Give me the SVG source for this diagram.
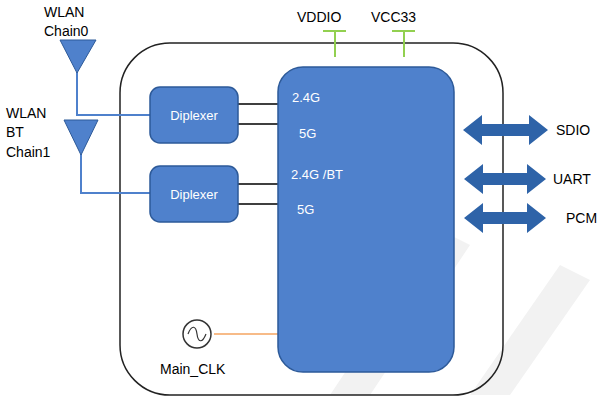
<svg xmlns="http://www.w3.org/2000/svg" width="613" height="406" viewBox="0 0 613 406">
<style>
text{font-family:"Liberation Sans",Arial,sans-serif;font-size:14px}
.w{fill:#fff;font-size:13px}
.blk{fill:#4f81cc;stroke:#2d5a99;stroke-width:1.5}
.ant{fill:#4f81cc;stroke:#2d5a99;stroke-width:1}
.bl{stroke:#4f81cc;stroke-width:2;fill:none}
.k{stroke:#000;stroke-width:1.5}
.g{stroke:#92d050;stroke-width:2;fill:none}
.arr{fill:#2e63a8}
</style>
<rect width="613" height="406" fill="#fff"/>
<path d="M330 395 L440 230 L470 245 L370 395Z" fill="#f2f2f2"/>
<path d="M470 395 L560 265 L590 280 L510 395Z" fill="#f2f2f2"/>
<rect id="board" x="120" y="43" width="383" height="352" rx="50" fill="none" stroke="#222" stroke-width="1.5"/>
<g id="connectors">
<path class="bl" d="M77 72 V115 H150"/>
<path class="bl" d="M81 154 V193 H150"/>
<path class="k" d="M238 104 H278 M238 124 H278 M238 184 H278 M238 204 H278"/>
<path class="g" d="M323 31 H346 M335 31 V57 M392 31 H415 M404 31 V57"/>
<path d="M214 334 H278" stroke="#f4a460" stroke-width="1.5"/>
<path class="arr" d="M463 130 L482 115 V124 H529 V115 L548 130 L529 145 V136 H482 V145Z"/>
<path class="arr" d="M464 179 L483 164 V173 H527 V164 L546 179 L527 194 V185 H483 V194Z"/>
<path class="arr" d="M464 218 L483 203 V212 H527 V203 L546 218 L527 233 V224 H483 V233Z"/>
</g>
<g id="ant0"><path class="ant" d="M60 40 H96 L77 73Z"/><text x="44" y="17">WLAN</text><text x="44" y="36">Chain0</text></g>
<g id="ant1"><path class="ant" d="M64 120 H98 L81 155Z"/><text x="6" y="118">WLAN</text><text x="6" y="137">BT</text><text x="6" y="157">Chain1</text></g>
<g id="dip1"><rect class="blk" x="150" y="87" width="88" height="56" rx="10"/><text class="w" x="194" y="120" text-anchor="middle">Diplexer</text></g>
<g id="dip2"><rect class="blk" x="150" y="166" width="88" height="56" rx="10"/><text class="w" x="194" y="199" text-anchor="middle">Diplexer</text></g>
<g id="chip"><rect class="blk" x="278" y="67" width="176" height="305" rx="25"/>
<text class="w" x="292" y="102">2.4G</text><text class="w" x="299" y="138">5G</text><text class="w" x="291" y="179">2.4G  /BT</text><text class="w" x="297" y="214">5G</text></g>
<g id="clk"><circle cx="197" cy="334" r="14" fill="#fff" stroke="#333" stroke-width="1.5"/><path d="M188 334 C192 324 196 326 197 334 C198 342 202 344 206 334" fill="none" stroke="#333" stroke-width="1.2"/><text x="160" y="374">Main_CLK</text></g>
<text x="297" y="22">VDDIO</text><text x="371" y="22">VCC33</text>
<text x="556" y="135">SDIO</text><text x="553" y="184">UART</text><text x="566" y="223">PCM</text>
</svg>
